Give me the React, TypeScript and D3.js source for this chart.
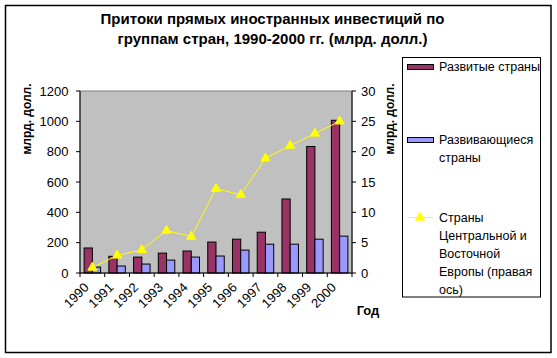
import React from 'react';
import * as d3 from 'd3';

// data
const years = ['1990', '1991', '1992', '1993', '1994', '1995', '1996', '1997', '1998', '1999', '2000'];
const developed = [165, 110, 105, 131, 145, 204, 223, 269, 488, 834, 1007];
const developing = [39, 46, 59, 85, 105, 112, 151, 190, 190, 223, 243];
const ceeRight = [0.9, 2.9, 3.8, 7.0, 6.0, 13.9, 12.9, 18.9, 21.0, 23.0, 25.0];
const leftTicks = [0, 200, 400, 600, 800, 1000, 1200];
const rightTicks = [0, 5, 10, 15, 20, 25, 30];

const titleLines = ['Притоки прямых иностранных инвестиций по', 'группам стран, 1990-2000 гг. (млрд. долл.)'];
const legendDeveloped = ['Развитые страны'];
const legendDeveloping = ['Развивающиеся', 'страны'];
const legendCee = ['Страны', 'Центральной и', 'Восточной', 'Европы (правая', 'ось)'];

const W = 557;
const H = 358;
const plot = { left: 80, right: 352, top: 91, bottom: 273 };
const font = '"Liberation Sans", Arial, sans-serif';

const MAROON = '#993366';
const LILAC = '#9999FF';
const YELLOW = '#FFFF00';

const triangle = d3.symbol().type(d3.symbolTriangle).size(36)();

const App = () => {
  const x = d3.scaleBand().domain(years).range([plot.left, plot.right]).padding(0);
  const yLeft = d3.scaleLinear().domain([0, 1200]).range([plot.bottom, plot.top]);
  const yRight = d3.scaleLinear().domain([0, 30]).range([plot.bottom, plot.top]);
  const bw = x.bandwidth();
  const barW = bw / 3;

  const line = d3
    .line<number>()
    .x((_, i) => (x(years[i]) as number) + bw / 2)
    .y((d) => yRight(d));

  return (
    <svg
      width={W}
      height={H}
      style={{ position: 'absolute', left: 0, top: 0, background: '#fff' }}
      fontFamily={font}
    >
      {/* chart frame */}
      <rect x={5.5} y={5.5} width={545.5} height={347} fill="#fff" stroke="#000" strokeWidth={1.5} />

      {/* title */}
      {titleLines.map((t, i) => (
        <text key={t} x={272.5} y={24 + i * 20} textAnchor="middle" fontSize={15} fontWeight="bold">
          {t}
        </text>
      ))}

      {/* plot area */}
      <rect
        x={plot.left}
        y={plot.top}
        width={plot.right - plot.left}
        height={plot.bottom - plot.top}
        fill="#C0C0C0"
        stroke="#808080"
        strokeWidth={1}
      />

      {/* bars */}
      {years.map((yr, i) => (
        <g key={yr}>
          <rect
            x={(x(yr) as number) + barW / 2}
            y={yLeft(developed[i])}
            width={barW}
            height={plot.bottom - yLeft(developed[i])}
            fill={MAROON}
            stroke="#000"
            strokeWidth={1}
          />
          <rect
            x={(x(yr) as number) + barW * 1.5}
            y={yLeft(developing[i])}
            width={barW}
            height={plot.bottom - yLeft(developing[i])}
            fill={LILAC}
            stroke="#000"
            strokeWidth={1}
          />
        </g>
      ))}

      {/* CEE line (right axis) */}
      <path d={line(ceeRight) || ''} fill="none" stroke={YELLOW} strokeWidth={1} />
      {ceeRight.map((v, i) => (
        <path
          key={i}
          d={triangle}
          transform={`translate(${(x(years[i]) as number) + bw / 2},${yRight(v)})`}
          fill={YELLOW}
          stroke={YELLOW}
        />
      ))}

      {/* left axis */}
      <line x1={plot.left} x2={plot.left} y1={plot.top} y2={plot.bottom} stroke="#000" />
      {leftTicks.map((t) => (
        <g key={t}>
          <line x1={plot.left - 4} x2={plot.left} y1={yLeft(t)} y2={yLeft(t)} stroke="#000" />
          <text x={68.5} y={yLeft(t)} dy="0.35em" textAnchor="end" fontSize={13}>
            {t}
          </text>
        </g>
      ))}

      {/* right axis */}
      <line x1={plot.right} x2={plot.right} y1={plot.top} y2={plot.bottom} stroke="#000" />
      {rightTicks.map((t) => (
        <g key={t}>
          <line x1={plot.right} x2={plot.right + 4} y1={yRight(t)} y2={yRight(t)} stroke="#000" />
          <text x={361} y={yRight(t)} dy="0.35em" textAnchor="start" fontSize={13}>
            {t}
          </text>
        </g>
      ))}

      {/* bottom axis */}
      <line x1={plot.left} x2={plot.right} y1={plot.bottom} y2={plot.bottom} stroke="#000" />
      {years.map((yr) => (
        <line
          key={yr}
          x1={x(yr) as number}
          x2={x(yr) as number}
          y1={plot.bottom}
          y2={plot.bottom + 4}
          stroke="#000"
        />
      ))}
      <line x1={plot.right} x2={plot.right} y1={plot.bottom} y2={plot.bottom + 4} stroke="#000" />
      {years.map((yr) => (
        <text
          key={yr}
          transform={`translate(${(x(yr) as number) + bw / 2 - 6},${plot.bottom + 12}) rotate(-45)`}
          textAnchor="end"
          dy="0.35em"
          fontSize={13}
        >
          {yr}
        </text>
      ))}

      {/* axis titles */}
      <text transform="translate(31,119) rotate(-90)" textAnchor="middle" fontSize={12} fontWeight="bold">
        млрд. долл.
      </text>
      <text transform="translate(394,119) rotate(-90)" textAnchor="middle" fontSize={12} fontWeight="bold">
        млрд. долл.
      </text>
      <text x={368} y={315} textAnchor="middle" fontSize={13} fontWeight="bold">
        Год
      </text>

      {/* legend */}
      <rect x={402.5} y={57.5} width={138} height={239.5} fill="#fff" stroke="#000" strokeWidth={1} />
      <rect x={407.5} y={64.5} width={26} height={5} fill={MAROON} stroke="#000" />
      {legendDeveloped.map((t, i) => (
        <text key={t} x={439} y={67 + i * 17.8} dy="0.35em" fontSize={12.5}>
          {t}
        </text>
      ))}
      <rect x={407.5} y={137.5} width={26} height={5} fill={LILAC} stroke="#000" />
      {legendDeveloping.map((t, i) => (
        <text key={t} x={439} y={140 + i * 17.8} dy="0.35em" fontSize={12.5}>
          {t}
        </text>
      ))}
      <line x1={407} x2={433} y1={217.5} y2={217.5} stroke={YELLOW} strokeWidth={1} />
      <path d={triangle} transform="translate(420,217.5)" fill={YELLOW} stroke={YELLOW} />
      {legendCee.map((t, i) => (
        <text key={t} x={439} y={218 + i * 17.8} dy="0.35em" fontSize={12.5}>
          {t}
        </text>
      ))}
    </svg>
  );
};

export default App;
